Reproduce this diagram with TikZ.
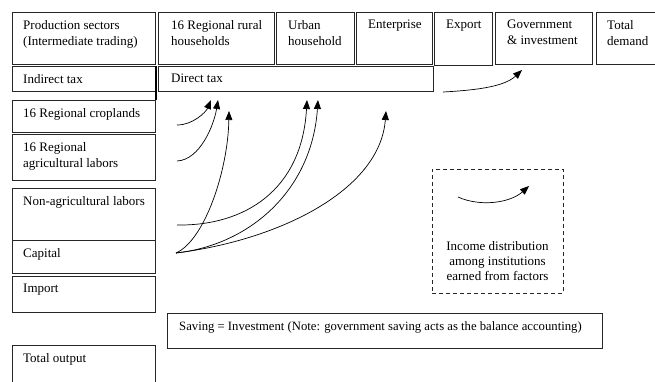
\documentclass[tikz,border=0pt]{standalone}
\usepackage{fontspec}
\setmainfont{Liberation Serif}
\usetikzlibrary{arrows.meta}

\tikzset{
  cell/.style={draw=black!85, line width=0.9pt, inner sep=0pt, anchor=north west},
  celltext/.style={anchor=north west, inner sep=0pt, align=left, xshift=11pt, yshift=-8pt,
    font=\fontsize{13}{16}\selectfont},
  flow/.style={-{Triangle[length=9pt,width=7pt]}, line width=0.7pt},
}

\begin{document}
\begin{tikzpicture}[x=1pt, y=-1pt]
    \useasboundingbox (0,0) rectangle (655,381);

    % Left column: accounts paid
    \node[cell, minimum width=143pt, minimum height=52pt, label={[celltext]north west:Production sectors\\(Intermediate trading)}] (prod) at (12,12) {};
    \node[cell, minimum width=143pt, minimum height=25pt, label={[celltext]north west:Indirect tax}] (indtax) at (12,66) {};
    \node[cell, minimum width=143pt, minimum height=32pt, label={[celltext]north west:16 Regional croplands}] (crop) at (12,100) {};
    \node[cell, minimum width=143pt, minimum height=46pt, label={[celltext]north west:16 Regional\\agricultural labors}] (agrilab) at (12,134) {};
    \node[cell, minimum width=143pt, minimum height=52pt, label={[celltext]north west:Non-agricultural labors}] (nonagri) at (12,188) {};
    \node[cell, minimum width=143pt, minimum height=33pt, label={[celltext]north west:Capital}] (capital) at (12,240) {};
    \node[cell, minimum width=143pt, minimum height=36pt, label={[celltext]north west:Import}] (import) at (12,276) {};
    \node[cell, minimum width=143pt, minimum height=40pt, label={[celltext]north west:Total output}] (totout) at (12,345) {};
    \draw[line width=1.3pt] (indtax.north east) -- ([yshift=-8pt]indtax.south east);

    % Top row: accounts received
    \node[cell, minimum width=116pt, minimum height=52pt, label={[celltext, xshift=2pt]north west:16 Regional rural\\households}] (rural) at (158,12) {};
    \node[cell, minimum width=78pt, minimum height=52pt, label={[celltext, xshift=1pt]north west:Urban\\household}] (urban) at (276,12) {};
    \node[cell, minimum width=76pt, minimum height=52pt, label={[celltext, xshift=1pt]north west:Enterprise}] (enterp) at (356,12) {};
    \node[cell, minimum width=58pt, minimum height=53pt, label={[celltext, xshift=1pt]north west:Export}] (export) at (434,12) {};
    \node[cell, minimum width=97pt, minimum height=52pt, label={[celltext, xshift=1pt]north west:Government\\\& investment}] (govinv) at (495,12) {};
    \node[cell, minimum width=64pt, minimum height=52pt, label={[celltext]north west:Total\\demand}] (totdem) at (596,12) {};
    \node[cell, minimum width=275pt, minimum height=25pt, label={[celltext, xshift=2pt]north west:Direct tax}] (dirtax) at (158,66) {};

    % Saving row and legend
    \node[cell, minimum width=435pt, minimum height=35pt, label={[celltext, xshift=1pt, font=\fontsize{12.7}{16}\selectfont]north west:{Saving = Investment (Note: government saving acts as the balance accounting)}}] (saving) at (167,313) {};
    \node[cell, dash pattern=on 4pt off 3pt, minimum width=131pt, minimum height=124pt] (legend) at (432,169) {};
    \node[align=center, font=\fontsize{13}{15}\selectfont] (legtext) at (497.5,261) {Income distribution\\among institutions\\earned from factors};

    % Arrow ends
    \coordinate (cropout) at (177,125);
    \coordinate (agriout) at (177,161);
    \coordinate (nonout) at (177,225);
    \coordinate (capout) at (176,253);
    \coordinate (taxout) at (443,92);
    \coordinate (legout) at (458,197);
    \coordinate (ruralin1) at (211,100);
    \coordinate (ruralin2) at (218,100);
    \coordinate (ruralin3) at (229,111);
    \coordinate (urbanin1) at (307,100);
    \coordinate (urbanin2) at (318,100);
    \coordinate (enterin) at (386,111);
    \coordinate (govin) at (522,70);
    \coordinate (legin) at (529,186);

    % Income flows from factors to institutions
    \draw[flow] (cropout) .. controls (193,125) and (206,112) .. (ruralin1);
    \draw[flow] (agriout) .. controls (200,160) and (214,125) .. (ruralin2);
    \draw[flow] (capout) .. controls (205,240) and (228,170) .. (ruralin3);
    \draw[flow] (nonout) .. controls (245,226) and (302,190) .. (urbanin1);
    \draw[flow] (capout) .. controls (250,245) and (312,190) .. (urbanin2);
    \draw[flow] (capout) .. controls (280,240) and (380,190) .. (enterin);
    \draw[flow] (taxout) .. controls (480,90) and (505,86) .. (govin);
    \draw[flow] (legout) .. controls (480,207) and (510,203) .. (legin);
\end{tikzpicture}
\end{document}
